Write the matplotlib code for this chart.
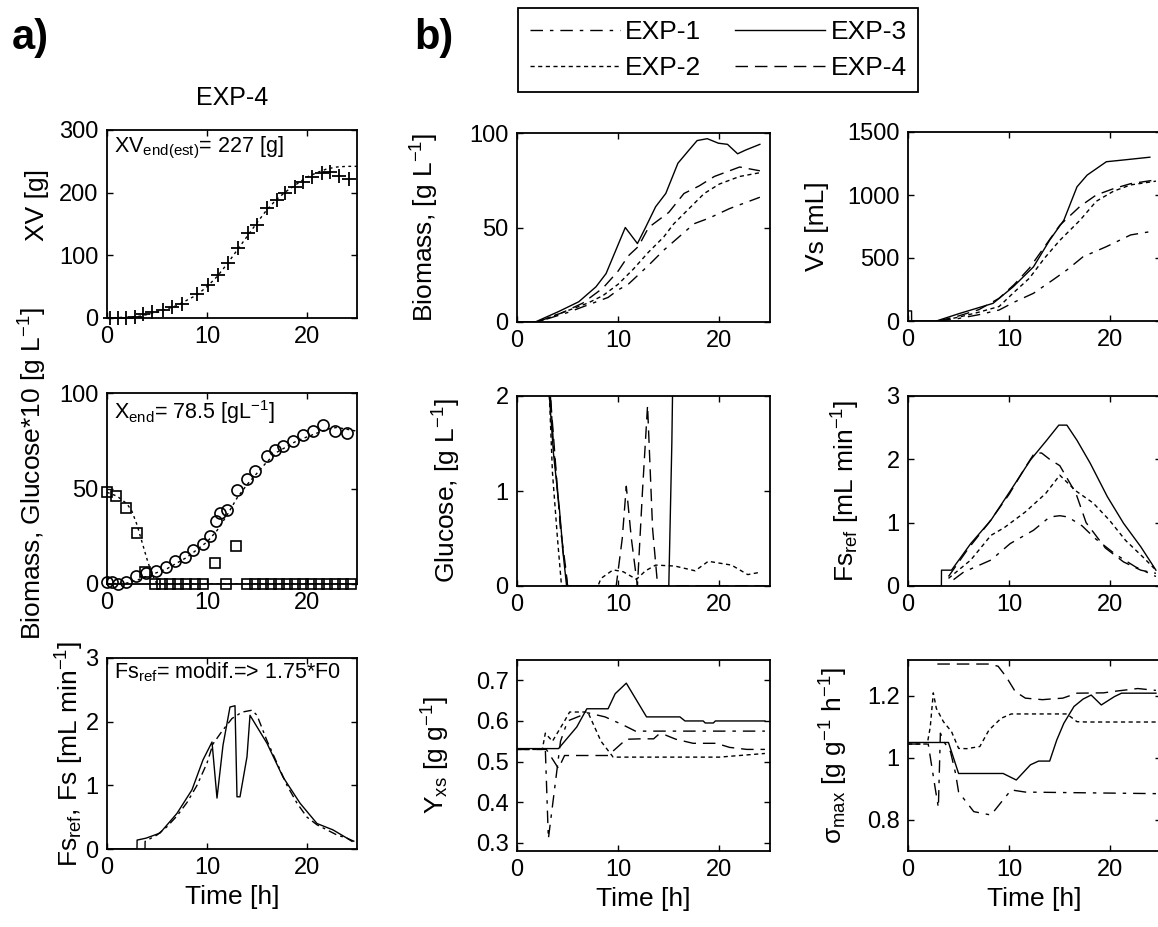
import numpy as np
import matplotlib
matplotlib.use('Agg')
import matplotlib.pyplot as plt

plt.rcParams['font.family'] = ['Liberation Sans', 'DejaVu Sans']
plt.rcParams['mathtext.fontset'] = 'custom'
plt.rcParams['mathtext.rm'] = 'Liberation Sans'
plt.rcParams['mathtext.default'] = 'regular'

# ---------------- panel a) : EXP-4 ----------------
t_xv = [0.3, 1.1, 1.9, 2.8, 3.6, 4.5, 5.6, 6.5, 7.5, 9.0, 10.1, 11.1, 12.1, 13.1, 14.1, 15.0,
        16.0, 17.0, 17.8, 18.8, 19.6, 20.5, 21.5, 22.3, 23.2, 24.2]
xv = [0, 0, 0, 2, 6, 9, 13, 18, 23, 39, 53, 69, 87, 111, 135, 148,
      175, 188, 199, 209, 217, 225, 231, 233, 226, 222]
t_xv_mod = [0, 3, 5, 7, 9, 10, 11, 12, 13, 14, 15, 16, 17, 18, 19, 20, 21, 22, 23, 24, 25]
xv_mod = [0, 2, 9, 20, 37, 50, 66, 86, 108, 130, 152, 173, 190, 203, 214, 225, 232, 238, 241, 242, 242]

t_x = [0.0, 0.5, 1.1, 1.9, 2.9, 3.9, 4.9, 5.9, 6.8, 7.8, 8.6, 9.6, 10.3, 10.9, 11.3, 12.0, 13.0,
       14.0, 14.8, 16.0, 16.8, 17.6, 18.6, 19.6, 20.6, 21.6, 22.8, 24.0]
x_meas = [1, 1, 0, 1, 4, 6, 7, 9, 12, 14, 18, 21, 25, 33, 37, 39, 49,
          55, 59, 67, 70, 72, 75, 78, 80, 83, 80, 79]
t_x_mod = [0, 2, 3, 4, 5, 6, 7, 8, 9, 10, 11, 12, 13, 14, 15, 16, 17, 18, 19, 20, 21, 22, 23, 24, 25]
x_mod = [0, 0.5, 2, 4, 6, 8, 11, 14, 18, 22, 28, 36, 45, 52, 58, 64, 69, 72, 75, 77, 79, 81, 82, 81, 80]

t_g = [0.0, 0.9, 1.9, 3.0, 3.8, 4.8, 5.5, 6.3, 7.1, 7.9, 8.8, 9.6, 10.8, 11.9, 12.9,
       14.0, 14.8, 15.6, 16.4, 17.2, 18.0, 18.8, 19.6, 20.4, 21.2, 22.0, 22.8, 23.6, 24.4]
g_meas = [48, 46, 40, 26.5, 6.4, 0, 0, 0, 0, 0, 0, 0, 11, 0, 20,
          0, 0, 0, 0, 0, 0, 0, 0, 0, 0, 0, 0, 0, 0]
t_g_mod = [0, 1, 2, 2.5, 3, 3.5, 4, 4.5, 5, 25]
g_mod = [48, 46, 42, 38, 31, 22, 13, 5, 0, 0]

t_fs = [0, 3.0, 3.01, 3.9, 5.3, 7.0, 8.5, 9.6, 10.5, 11.0, 11.6, 12.3, 12.8, 13.0, 13.3,
        14.0, 14.3, 16.0, 17.6, 19.3, 21.0, 22.6, 24.0, 24.5]
fs = [0, 0, 0.14, 0.17, 0.25, 0.56, 0.93, 1.4, 1.68, 0.8, 1.63, 2.23, 2.25, 0.82, 0.82,
      1.45, 2.1, 1.66, 1.13, 0.72, 0.4, 0.3, 0.17, 0.12]
t_fsref = [3.8, 3.81, 5, 6, 7, 8, 9, 10, 10.6, 11.5, 12.5, 13.5, 14.5, 15, 16, 17, 18, 19, 20,
           21, 22, 23, 24, 25]
fsref = [0, 0.12, 0.22, 0.35, 0.52, 0.73, 1.0, 1.35, 1.65, 1.85, 2.05, 2.15, 2.18, 2.1, 1.7,
         1.35, 1.0, 0.72, 0.5, 0.38, 0.3, 0.22, 0.17, 0.1]

# ---------------- panel b) : EXP-1..4 ----------------
exps = ['EXP-1', 'EXP-2', 'EXP-3', 'EXP-4']

bio_t = {
    'EXP-1': [0, 2, 5, 7.5, 9, 10, 11, 12, 13, 14.5, 16, 17.5, 19, 21, 22, 24],
    'EXP-2': [0, 2, 4.5, 7, 8.5, 10, 11.5, 13, 14.5, 15.5, 17, 18.5, 20, 22, 24],
    'EXP-3': [0, 1.8, 4.1, 6.1, 7.8, 8.8, 10.7, 11.9, 12.7, 13.7, 14.7, 15.9, 17.0, 17.8,
              18.8, 19.9, 20.8, 21.8, 22.6, 24],
    'EXP-4': [0, 2, 4.5, 6.5, 8.5, 10, 11, 12, 13, 15, 16.5, 18, 19.5, 21, 22, 24],
}
bio = {
    'EXP-1': [0, 0, 5, 10, 13, 17, 20, 25, 30, 38, 45, 52, 55, 60, 62, 66],
    'EXP-2': [0, 0, 5, 10, 14, 20, 28, 37, 45, 52, 60, 68, 73, 77, 79],
    'EXP-3': [0, 0, 5.5, 10.7, 18.6, 25.6, 50, 41.5, 50, 61, 68, 84, 91, 96,
              97, 94.6, 94, 89, 91, 94],
    'EXP-4': [0, 0, 5, 10, 18, 27, 35, 40, 50, 58, 68, 72, 77, 80, 82, 80],
}

vs_t = {
    'EXP-1': [3, 5, 7, 9, 10.5, 12.4, 14.3, 15.7, 17.3, 19.6, 22, 24],
    'EXP-2': [3, 5, 7, 9, 10.5, 12, 13.5, 15, 17, 18.6, 20.3, 22, 24.5],
    'EXP-3': [0, 0.01, 0.35, 0.36, 2.8, 5.1, 8.4, 10.4, 12.4, 14.0, 15.4, 16.7, 17.7,
              19.6, 21.3, 23.9],
    'EXP-4': [3, 5, 7, 9, 10.5, 12, 13.5, 15, 17, 18.6, 20.3, 22, 24.5],
}
vs = {
    'EXP-1': [0, 20, 50, 87, 150, 220, 325, 405, 510, 590, 683, 710],
    'EXP-2': [0, 30, 70, 115, 230, 340, 500, 640, 800, 950, 1030, 1080, 1110],
    'EXP-3': [0, 80, 80, 0, 0, 60, 140, 272, 430, 642, 800, 1065, 1158, 1264, 1278, 1300],
    'EXP-4': [0, 40, 90, 180, 290, 420, 590, 760, 910, 1000, 1050, 1090, 1120],
}

glu_t = {
    'EXP-1': [0, 3.3, 3.6, 4.0, 4.5, 5.0, 24.5],
    'EXP-2': [0, 3.2, 3.5, 4.0, 4.4, 8.0, 8.3, 9.5, 10.5, 11.8, 12.7, 13.7, 15.6, 17.6,
              18.9, 21.2, 22.8, 23.8],
    'EXP-3': [0, 3.2, 3.6, 4.2, 4.6, 4.9, 15.0, 15.1, 15.3, 15.5],
    'EXP-4': [0, 3.3, 3.8, 4.3, 4.8, 5.0, 9.8, 10.4, 10.8, 11.3, 11.9, 12.4, 12.9, 13.4,
              13.9, 24.5],
}
glu = {
    'EXP-1': [4.8, 2.0, 1.5, 1.0, 0.4, 0.0, 0.0],
    'EXP-2': [4.8, 2.0, 1.2, 0.5, 0.0, 0.0, 0.08, 0.17, 0.15, 0.07, 0.16, 0.22, 0.21, 0.16,
              0.26, 0.22, 0.12, 0.14],
    'EXP-3': [4.8, 2.0, 1.4, 0.8, 0.3, 0.0, 0.0, 0.5, 1.5, 3.0],
    'EXP-4': [4.8, 2.0, 1.3, 0.6, 0.2, 0.0, 0.0, 0.5, 1.05, 0.5, 0.0, 1.0, 1.9, 0.6,
              0.0, 0.0],
}

fsr_t = {
    'EXP-1': [4.5, 5.5, 8.2, 10.1, 12.4, 14.0, 15.0, 15.8, 17.2, 18.5, 20.5, 22.5, 24.5],
    'EXP-2': [4.0, 6.2, 8.2, 9.5, 11.6, 13.6, 15.0, 16.6, 18.3, 19.9, 21.5, 23.2, 24.5],
    'EXP-3': [0, 3.3, 3.31, 4.3, 6.2, 8.2, 10.1, 12.1, 13.7, 14.9, 15.7, 16.7, 18.0, 19.7,
              21.3, 23.0, 24.5],
    'EXP-4': [4.0, 6, 8, 10, 11.5, 12.5, 13.2, 14, 15, 16.6, 17.6, 19.5, 21.3, 23, 24.5],
}
fsr = {
    'EXP-1': [0.1, 0.22, 0.41, 0.67, 0.88, 1.09, 1.11, 1.09, 0.95, 0.75, 0.5, 0.3, 0.15],
    'EXP-2': [0.12, 0.41, 0.8, 0.92, 1.17, 1.46, 1.75, 1.5, 1.31, 1.04, 0.72, 0.46, 0.25],
    'EXP-3': [0, 0, 0.25, 0.25, 0.67, 1.04, 1.5, 1.99, 2.3, 2.54, 2.54, 2.3, 1.94, 1.41,
              0.99, 0.62, 0.25],
    'EXP-4': [0.15, 0.6, 1.0, 1.45, 1.85, 2.1, 2.1, 2.0, 1.9, 1.46, 1.0, 0.6, 0.38, 0.25, 0.2],
}

yxs_t = {
    'EXP-1': [0, 2.8, 3.1, 3.8, 4.3, 5.0, 6.5, 7.0, 8.7, 10.5, 11.7, 24.5],
    'EXP-2': [0, 2.5, 2.8, 3.5, 4.7, 5.2, 7.0, 8.3, 9.5, 20, 24.5],
    'EXP-3': [0, 4.1, 5.9, 6.9, 9.0, 9.7, 10.8, 12.8, 16.1, 16.6, 18.4, 18.6, 19.4, 19.6, 24.5],
    'EXP-4': [0, 2.9, 4.1, 4.7, 9.0, 10.8, 12.2, 13.5, 14.0, 14.7, 15.7, 17.4, 19.7, 21.0,
              22.7, 24.5],
}
yxs = {
    'EXP-1': [0.53, 0.53, 0.31, 0.45, 0.55, 0.6, 0.615, 0.62, 0.61, 0.59, 0.575, 0.575],
    'EXP-2': [0.53, 0.53, 0.57, 0.55, 0.6, 0.622, 0.622, 0.55, 0.511, 0.511, 0.52],
    'EXP-3': [0.532, 0.532, 0.585, 0.63, 0.63, 0.667, 0.693, 0.61, 0.61, 0.6, 0.6, 0.595,
              0.595, 0.6, 0.6],
    'EXP-4': [0.53, 0.53, 0.483, 0.515, 0.515, 0.555, 0.556, 0.556, 0.567, 0.565, 0.555,
              0.545, 0.545, 0.535, 0.53, 0.53],
}

smax_t = {
    'EXP-1': [0, 2.0, 2.7, 3.0, 3.2, 3.6, 4.2, 4.7, 5.0, 6.5, 8.2, 9.4, 10.2, 11.6, 24.5],
    'EXP-2': [0, 1.9, 2.2, 2.5, 2.8, 3.5, 4.3, 5.0, 5.8, 7.1, 8.0, 9.2, 10.2, 15.7, 16.7,
              17.7, 24.5],
    'EXP-3': [0, 4.0, 5.0, 9.4, 10.7, 12.1, 12.9, 14.0, 14.7, 15.4, 16.4, 17.3, 18.1, 19.1,
              20.4, 21.1, 24.5],
    'EXP-4': [2.9, 6.6, 7.9, 8.9, 9.7, 10.6, 11.6, 13.3, 14.0, 15.3, 16.7, 19.3, 20.4, 21.7,
              22.7, 24.5],
}
smax = {
    'EXP-1': [1.045, 1.045, 0.9, 0.84, 1.08, 1.05, 1.02, 0.95, 0.89, 0.827, 0.816, 0.865,
              0.897, 0.89, 0.885],
    'EXP-2': [1.045, 1.045, 1.1, 1.21, 1.16, 1.117, 1.085, 1.031, 1.03, 1.037, 1.09, 1.128,
              1.142, 1.142, 1.117, 1.116, 1.116],
    'EXP-3': [1.05, 1.05, 0.95, 0.95, 0.929, 0.978, 0.99, 0.99, 1.058, 1.112, 1.166, 1.19,
              1.203, 1.171, 1.198, 1.209, 1.209],
    'EXP-4': [1.303, 1.303, 1.303, 1.296, 1.262, 1.214, 1.193, 1.188, 1.19, 1.193, 1.209,
              1.21, 1.215, 1.22, 1.224, 1.218],
}

styles = {
    'EXP-1': (0, (9, 5, 2.5, 5)),
    'EXP-2': (0, (3, 2.5)),
    'EXP-3': '-',
    'EXP-4': (0, (9, 5)),
}

W, H = 1158, 927
fig = plt.figure(figsize=(W / 100, H / 100), dpi=100)


def box(l, t, r, b):
    return [l / W, 1 - b / H, (r - l) / W, (b - t) / H]


def style_ax(ax, ylim, yticks, ylabels=None):
    ax.set_xlim(0, 25)
    ax.set_ylim(*ylim)
    ax.set_xticks([0, 10, 20])
    ax.set_yticks(yticks)
    if ylabels is not None:
        ax.set_yticklabels(ylabels)
    ax.tick_params(direction='in', top=True, right=True, length=4, width=1,
                   labelsize=17, pad=6)
    for s in ax.spines.values():
        s.set_linewidth(1.3)


lab = 19
ann = 15.5

# ----- a) top: XV -----
ax = fig.add_axes(box(107, 130, 357, 318))
ax.plot(t_xv_mod, xv_mod, color='k', lw=1, ls=(0, (2, 2.5)))
ax.plot(t_xv, xv, 'k+', ms=10, mew=1.3, clip_on=False)
style_ax(ax, (0, 300), [0, 100, 200, 300])
ax.set_title('EXP-4', fontsize=18, pad=18)
ax.set_ylabel('XV [g]', fontsize=lab)
ax.yaxis.set_label_coords(-0.232, 0.6)
ax.text(0.03, 0.975, 'XV$_{end(est)}$= 227 [g]', transform=ax.transAxes,
        ha='left', va='top', fontsize=ann)

# ----- a) middle: biomass & glucose*10 -----
ax = fig.add_axes(box(107, 393, 357, 584))
ax.plot(t_x_mod, x_mod, color='k', lw=1, ls=(0, (2, 2.5)))
ax.plot(t_g_mod, g_mod, color='k', lw=1, ls=(0, (2, 2.5)))
ax.plot(t_x, x_meas, 'ko', mfc='none', ms=8, mew=1.2, clip_on=False)
ax.plot(t_g, g_meas, 'ks', mfc='none', ms=7, mew=1.2, clip_on=False)
style_ax(ax, (0, 100), [0, 50, 100])
ax.set_ylabel('Biomass, Glucose*10 [g L$^{-1}$]', fontsize=lab)
ax.yaxis.set_label_coords(-0.232, 0.576)
ax.text(0.03, 0.975, 'X$_{end}$= 78.5 [gL$^{-1}$]', transform=ax.transAxes,
        ha='left', va='top', fontsize=ann)

# ----- a) bottom: feed -----
ax = fig.add_axes(box(107, 658, 357, 849))
ax.plot(t_fsref, fsref, color='k', lw=1, ls=(0, (6, 3, 2, 3)))
ax.plot(t_fs, fs, color='k', lw=1.0)
style_ax(ax, (0, 3), [0, 1, 2, 3])
ax.set_ylabel('Fs$_{ref}$, Fs [mL min$^{-1}$]', fontsize=lab)
ax.yaxis.set_label_coords(-0.084, 0.5)
ax.set_xlabel('Time [h]', fontsize=lab)
ax.text(0.03, 0.99, 'Fs$_{ref}$= modif.=> 1.75*F0', transform=ax.transAxes,
        ha='left', va='top', fontsize=ann)

# ----- b) six panels -----
panels = [
    (box(517, 133, 770, 322), bio_t, bio, (0, 100), [0, 50, 100], None,
     'Biomass, [g L$^{-1}$]', -0.30, False),
    (box(908, 132, 1161, 321), vs_t, vs, (0, 1500), [0, 500, 1000, 1500], None,
     'Vs [mL]', -0.312, False),
    (box(517, 396, 770, 586), glu_t, glu, (0, 2), [0, 1, 2], None,
     'Glucose, [g L$^{-1}$]', -0.213, False),
    (box(908, 396, 1161, 586), fsr_t, fsr, (0, 3), [0, 1, 2, 3], None,
     'Fs$_{ref}$ [mL min$^{-1}$]', -0.182, False),
    (box(517, 660, 770, 851), yxs_t, yxs, (0.28, 0.75), [0.3, 0.4, 0.5, 0.6, 0.7], None,
     'Y$_{xs}$ [g g$^{-1}$]', -0.257, True),
    (box(908, 660, 1161, 851), smax_t, smax, (0.7, 1.316), [0.8, 1, 1.2], ['0.8', '1', '1.2'],
     'σ$_{max}$ [g g$^{-1}$ h$^{-1}$]', -0.229, True),
]

handles = []
for pos, tt, yy, ylim, yt, ytl, ylab, lx, bottom in panels:
    ax = fig.add_axes(pos)
    hs = []
    for e in exps:
        h, = ax.plot(tt[e], yy[e], color='k', lw=1.0, ls=styles[e], label=e)
        hs.append(h)
    if not handles:
        handles = hs
    style_ax(ax, ylim, yt, ytl)
    ax.set_ylabel(ylab, fontsize=lab)
    ax.yaxis.set_label_coords(lx, 0.5)
    if bottom:
        ax.set_xlabel('Time [h]', fontsize=lab)

leg = fig.legend(handles, exps, ncol=2, loc='upper left',
                 bbox_to_anchor=(518 / W, 1 - 8 / H), borderaxespad=0,
                 fontsize=19, handlelength=3.4, handletextpad=0.2,
                 columnspacing=1.3, labelspacing=0.45, borderpad=0.45,
                 fancybox=False, framealpha=1)
leg.get_frame().set_edgecolor('k')
leg.get_frame().set_linewidth(1.3)

fig.text(12 / W, 1 - 18 / H, 'a)', fontsize=30, fontweight='bold', ha='left', va='top')
fig.text(414 / W, 1 - 18 / H, 'b)', fontsize=30, fontweight='bold', ha='left', va='top')

fig.savefig('out.png', dpi=100)
